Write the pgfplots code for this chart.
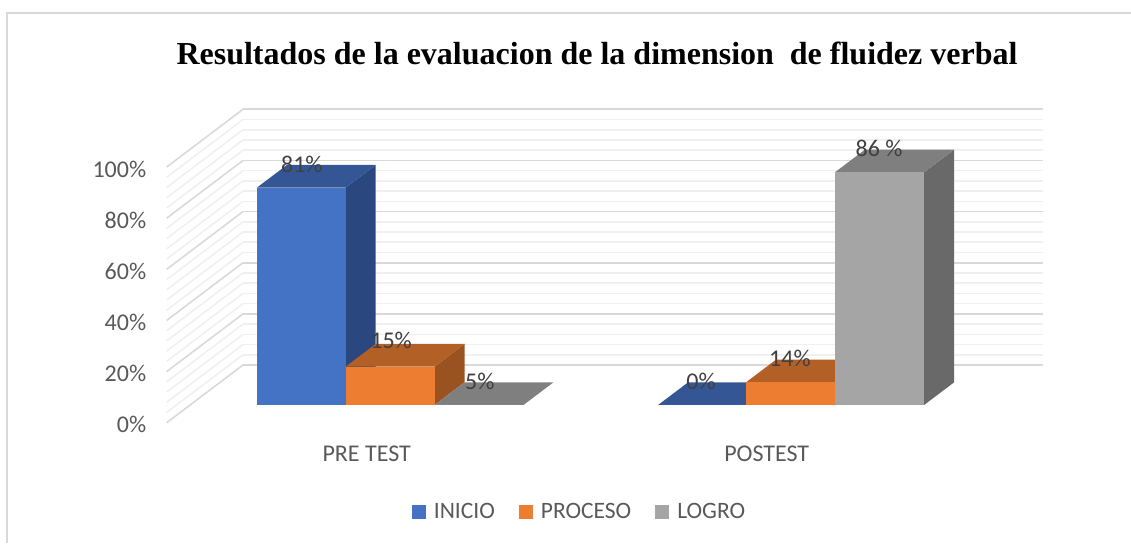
\documentclass[border=0pt]{standalone}
\usepackage{fontspec}
\setmainfont{Carlito}
\newfontfamily\titlefont{Liberation Serif}
\usepackage{pgfplots}
\pgfplotsset{compat=1.18}
\definecolor{gridmaj}{HTML}{D9D9D9}
\definecolor{gridmin}{HTML}{F0F0F0}
\definecolor{txt}{HTML}{595959}
\definecolor{lab}{HTML}{404040}
\definecolor{bluef}{HTML}{4472C4}
\definecolor{bluet}{HTML}{345694}
\definecolor{blues}{HTML}{2A4780}
\definecolor{orangef}{HTML}{ED7D31}
\definecolor{oranget}{HTML}{B26025}
\definecolor{oranges}{HTML}{9A5320}
\definecolor{grayf}{HTML}{A5A5A5}
\definecolor{grayt}{HTML}{7F7F7F}
\definecolor{grays}{HTML}{696969}
% x0, x1, height, front, top, side colours; depth of every bar runs from 0.307 to 0.70
\newcommand{\threedbar}[6]{%
  \addplot3[forget plot,fill=#6,draw=none] coordinates {(#2,0.307,0) (#2,0.70,0) (#2,0.70,#3) (#2,0.307,#3)} -- cycle;
  \addplot3[forget plot,fill=#5,draw=none] coordinates {(#1,0.307,#3) (#2,0.307,#3) (#2,0.70,#3) (#1,0.70,#3)} -- cycle;
  \addplot3[forget plot,fill=#4,draw=none] coordinates {(#1,0.307,0) (#2,0.307,0) (#2,0.307,#3) (#1,0.307,#3)} -- cycle;
}
\begin{document}
\begin{tikzpicture}[x=1pt,y=1pt]
\path[use as bounding box] (0,0) rectangle (1131,543);
\draw[gridmaj,line width=1.6pt] (6.7,0) -- (6.7,530) -- (1131,530);
\node[font=\titlefont\bfseries\fontsize{32}{35}\selectfont,text=black] at (597,490) {Resultados de la evaluacion de la dimension\ \ de fluidez verbal};
\begin{axis}[
  at={(166.7pt,120.3pt)},anchor=origin,
  x={(400pt,0pt)},y={(76.3pt,57.7pt)},z={(0pt,2.557pt)},
  xmin=0,xmax=2,ymin=0,ymax=1,zmin=0,zmax=100,
  clip=false,
  axis line style={draw=none},
  major tick length=0pt,minor tick length=0pt,
  xtick={0.5,1.5},xticklabels={PRE TEST,POSTEST},
  ytick=\empty,
  ztick={0,20,40,60,80,100},minor z tick num=4,
  zticklabel={\pgfmathprintnumber{\tick}\%},
  /pgf/number format/assume math mode=true,
  zmajorgrids=true,zminorgrids=true,
  major grid style={gridmaj,line width=1.6pt},
  minor grid style={gridmin,line width=1.6pt},
  tick label style={font=\fontsize{24}{27}\selectfont,text=txt},
  zticklabel style={anchor=east,xshift=-17pt,yshift=-2pt},
  xticklabel style={anchor=center,yshift=-31pt},
  legend columns=3,
  legend cell align=left,
  legend style={at={(axis cs:1.032,0,-34.8)},anchor=center,draw=none,fill=none,
    font=\fontsize{23.5}{26}\selectfont,text=txt,
    /tikz/every even column/.append style={column sep=22pt},
    /tikz/every odd column/.append style={column sep=6pt}},
  legend image code/.code={\fill[#1,draw=none] (0pt,-7pt) rectangle (14pt,7pt);},
]
\threedbar{0.167}{0.389}{85.0}{bluef}{bluet}{blues}
\threedbar{0.389}{0.611}{15.0}{orangef}{oranget}{oranges}
\threedbar{0.611}{0.833}{0}{grayf}{grayt}{grays}
\threedbar{1.170}{1.390}{0}{bluef}{bluet}{blues}
\threedbar{1.390}{1.612}{8.9}{orangef}{oranget}{oranges}
\threedbar{1.612}{1.835}{91.0}{grayf}{grayt}{grays}
\addlegendimage{fill=bluef}\addlegendentry{INICIO}
\addlegendimage{fill=orangef}\addlegendentry{PROCESO}
\addlegendimage{fill=grayf}\addlegendentry{LOGRO}
\tikzset{dl/.style={font=\fontsize{24}{27}\selectfont,text=lab,inner sep=0pt}}
\node[dl] at (axis cs:0.338,0,101.2) {81\%};
\node[dl] at (axis cs:0.561,0,32.0) {15\%};
\node[dl] at (axis cs:0.783,0,16.3) {5\%};
\node[dl] at (axis cs:1.336,0,16.3) {0\%};
\node[dl] at (axis cs:1.558,0,25.3) {14\%};
\node[dl] at (axis cs:1.781,0,107.1) {86 \%};
\end{axis}
\end{tikzpicture}
\end{document}
